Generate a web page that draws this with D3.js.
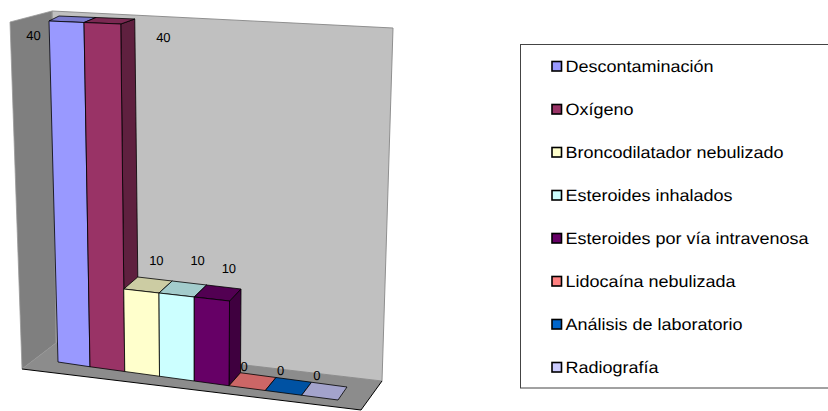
<!DOCTYPE html>
<html>
<head>
<meta charset="utf-8">
<script src="https://cdn.jsdelivr.net/npm/d3@7"></script>
<style>
  html, body { margin: 0; padding: 0; background: #fff; }
  svg { display: block; }
  text { font-family: "Liberation Sans", Arial, sans-serif; fill: #000; text-rendering: geometricPrecision; }
</style>
</head>
<body>
<svg id="chart" width="828" height="411"></svg>
<script>
const categories = [
  "Descontaminación", "Oxígeno", "Broncodilatador nebulizado", "Esteroides inhalados",
  "Esteroides por vía intravenosa", "Lidocaína nebulizada", "Análisis de laboratorio", "Radiografía"
];
const values = [40, 40, 10, 10, 10, 0, 0, 0];
const colors = ["#9999ff", "#993366", "#ffffcc", "#ccffff", "#660066", "#ff8080", "#0066cc", "#ccccff"];
const labelOffsets = [[-33, 18], [61, 19], [15, -26], [21, -30], [17, -26], [-3, -17], [-3, -18], [-3, -18]];

// Oblique view: each axis of the box is bent by a small set of linear scales.
const xFloor = d3.scaleLinear().domain([0, 1, 5, 8]).range([58, 90, 229, 338]);
const xCeil = d3.scaleLinear().domain([0, 1, 5, 8]).range([49, 84, 231, 346]);
const yLeft = d3.scaleLinear().domain([0, 10, 40]).range([362, 281, 21]);
const yRight = d3.scaleLinear().domain([0, 10, 40]).range([400, 313, 33]);
const depthX = d3.scaleLinear().domain([0, 2, 8]).range([10, 14, 9]);
const depthY = d3.scaleLinear().domain([0, 10, 40]).range([-13, -12, -5]);
const position = d3.scaleLinear().domain([0, 8]).range([0, 1]);
const height = d3.scaleLinear().domain([0, 40]).range([0, 1]);

function project(u, v, w = 0) {
  const x = d3.interpolateNumber(xFloor(u), xCeil(u))(height(v));
  const y = d3.interpolateNumber(yLeft(v), yRight(v))(position(u));
  return [x + w * depthX(u), y + w * depthY(v)];
}

const svg = d3.select("#chart");
const polygon = (parent, pts, fill, stroke, sw) => parent.append("polygon")
  .attr("points", pts.map(p => p.join(",")).join(" "))
  .attr("fill", fill)
  .attr("stroke", stroke || "none")
  .attr("stroke-width", sw || 0)
  .attr("stroke-linejoin", "round");

// Box walls and floor
const frame = {
  sideTop: [10, 22], sideBottom: [22, 369],
  backTopLeft: [52, 11], backTopRight: [393, 28],
  backBottomLeft: [56, 343], backBottomRight: [382, 381],
  floorFront: [361, 410]
};
const walls = svg.append("g");
polygon(walls, [frame.backTopLeft, frame.backTopRight, frame.backBottomRight, frame.backBottomLeft], "#c0c0c0", "#8f8f8f", 1);
polygon(walls, [frame.sideTop, frame.backTopLeft, frame.backBottomLeft, frame.sideBottom], "#7f7f7f", "#999", 0.8);
polygon(walls, [frame.sideBottom, frame.backBottomLeft, frame.backBottomRight, frame.floorFront], "#8c8c8c", "none");
walls.append("path")
  .attr("d", d3.line()([frame.sideBottom, frame.floorFront, frame.backBottomRight]))
  .attr("fill", "none").attr("stroke", "#000").attr("stroke-width", 1);

// Columns, left to right so each front hides its neighbour's side face
const bars = svg.append("g");
values.forEach((v, i) => {
  const c = d3.color(colors[i]);
  const shade = k => d3.rgb(c.r * k, c.g * k, c.b * k).formatHex();
  const g = bars.append("g");
  if (v > 0) {
    polygon(g, [project(i + 1, 0), project(i + 1, 0, 1), project(i + 1, v, 1), project(i + 1, v)], shade(0.62), "#000", 0.8);
  }
  polygon(g, [project(i, v), project(i + 1, v), project(i + 1, v, 1), project(i, v, 1)], shade(0.8), "#000", 0.8);
  if (v > 0) {
    polygon(g, [project(i, 0), project(i + 1, 0), project(i + 1, v), project(i, v)], colors[i], "#000", 0.8);
  }
});

// Value labels
svg.append("g").selectAll("text").data(values).join("text")
  .attr("x", (v, i) => project(i + 0.5, v)[0] + labelOffsets[i][0])
  .attr("y", (v, i) => project(i + 0.5, v)[1] + labelOffsets[i][1])
  .attr("text-anchor", "middle")
  .attr("font-size", 13)
  .text(v => v);

// Legend
const legendRow = d3.scalePoint().domain(categories).range([66, 367]);
svg.append("rect")
  .attr("x", 520.5).attr("y", 44.5).attr("width", 320).attr("height", 343.5)
  .attr("fill", "#fff").attr("stroke", "#444").attr("stroke-width", 1);
const rows = svg.append("g").selectAll("g").data(categories).join("g")
  .attr("transform", d => `translate(0,${legendRow(d)})`);
rows.append("rect")
  .attr("x", 552).attr("y", -4.5).attr("width", 9.5).attr("height", 9.5)
  .attr("fill", (d, i) => colors[i]).attr("stroke", "#000").attr("stroke-width", 1.6);
rows.append("text")
  .attr("transform", "translate(565.5,5.5) scale(1.09,1)")
  .attr("font-size", 16.5)
  .text(d => d);
</script>
</body>
</html>
